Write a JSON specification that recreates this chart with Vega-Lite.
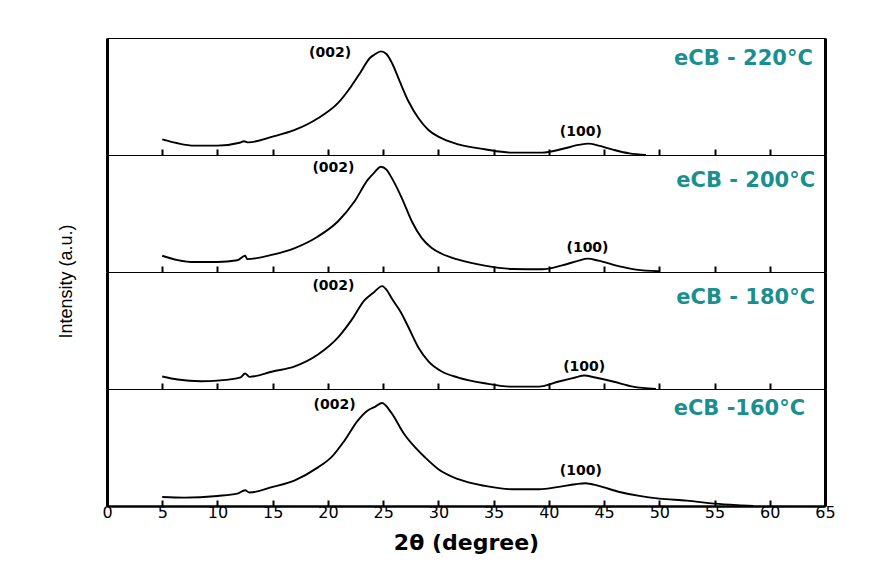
{
  "$schema": "https://vega.github.io/schema/vega-lite/v6.json",
  "background": "white",
  "padding": {"left": 56, "top": 37, "right": 5, "bottom": 5},
  "bounds": "flush",
  "spacing": 0,
  "datasets": {
    "s220": [
      {"t":5,"i":13.4},{"t":6.4,"i":10},{"t":7.9,"i":8},{"t":10,"i":8},{"t":12,"i":10.5},{"t":12.4,"i":11.8},{"t":12.8,"i":10.8},{"t":15,"i":15.7},{"t":17,"i":21.4},{"t":19.1,"i":31.4},{"t":20.9,"i":44.3},{"t":22.1,"i":58.6},{"t":23,"i":71.4},{"t":23.8,"i":82.9},{"t":24.2,"i":85.7},{"t":24.8,"i":88.6},{"t":25.3,"i":86.3},{"t":25.8,"i":78.6},{"t":26.5,"i":62.9},{"t":27.3,"i":45.7},{"t":28.2,"i":31.4},{"t":29.1,"i":21.4},{"t":30,"i":15.7},{"t":31.8,"i":9.1},{"t":34.2,"i":4.9},{"t":36.7,"i":2},{"t":39.4,"i":2},{"t":41.2,"i":5.1},{"t":42.7,"i":8.6},{"t":43.6,"i":9.7},{"t":44.5,"i":8},{"t":45.8,"i":4.6},{"t":47.3,"i":1.4},{"t":48.8,"i":0}
    ],
    "s200": [
      {"t":5,"i":13.9},{"t":6.4,"i":10.2},{"t":7.9,"i":8.5},{"t":10,"i":8.5},{"t":11.8,"i":10},{"t":12.5,"i":13.9},{"t":12.7,"i":11},{"t":15,"i":14.8},{"t":17,"i":20.5},{"t":19.1,"i":30.4},{"t":20.9,"i":43.2},{"t":22.4,"i":60.2},{"t":23.6,"i":78.7},{"t":24.2,"i":85},{"t":24.8,"i":90},{"t":25.3,"i":87.5},{"t":25.8,"i":80},{"t":26.7,"i":63},{"t":27.6,"i":43.2},{"t":28.5,"i":29},{"t":29.4,"i":20.5},{"t":30.3,"i":15.6},{"t":31.8,"i":10.5},{"t":34.2,"i":5.4},{"t":36.7,"i":2.6},{"t":39.4,"i":2.3},{"t":41.2,"i":5.7},{"t":42.7,"i":9.7},{"t":43.5,"i":11.4},{"t":44.5,"i":9.7},{"t":46.4,"i":4.8},{"t":47.9,"i":2},{"t":50,"i":0.6}
    ],
    "s180": [
      {"t":5,"i":10.7},{"t":6.4,"i":8.1},{"t":8.5,"i":6.6},{"t":10,"i":7.2},{"t":12.1,"i":10},{"t":12.5,"i":13.3},{"t":12.9,"i":10.4},{"t":15,"i":15},{"t":17,"i":19.4},{"t":19.1,"i":29.5},{"t":20.9,"i":43.9},{"t":22.1,"i":58.4},{"t":23.3,"i":75.7},{"t":24.2,"i":83},{"t":24.9,"i":87.9},{"t":25.4,"i":83.5},{"t":25.7,"i":78.6},{"t":26.6,"i":65.6},{"t":27.3,"i":52.6},{"t":28.2,"i":35.3},{"t":29.1,"i":23.7},{"t":30.3,"i":15},{"t":31.8,"i":9.8},{"t":34.2,"i":4.9},{"t":36.7,"i":2},{"t":39.1,"i":2},{"t":40.9,"i":6.4},{"t":42.4,"i":9.8},{"t":43.2,"i":11.6},{"t":44.2,"i":9.8},{"t":45.8,"i":6.4},{"t":47.6,"i":2},{"t":49.7,"i":0}
    ],
    "s160": [
      {"t":5,"i":7.7},{"t":7,"i":7.2},{"t":10,"i":8.6},{"t":11.8,"i":10.6},{"t":12.5,"i":13.5},{"t":12.9,"i":11.5},{"t":15,"i":16.3},{"t":17,"i":22},{"t":19.1,"i":33},{"t":20.3,"i":41.5},{"t":21.5,"i":55.9},{"t":22.7,"i":73},{"t":23.6,"i":81.7},{"t":24.3,"i":85},{"t":24.9,"i":88},{"t":25.7,"i":80.2},{"t":26.9,"i":61.6},{"t":27.9,"i":50.1},{"t":28.8,"i":41.5},{"t":30,"i":31.5},{"t":31.8,"i":22.9},{"t":34.2,"i":17.2},{"t":36.7,"i":14.3},{"t":39.1,"i":14.3},{"t":40.9,"i":16.3},{"t":42.4,"i":18.6},{"t":43.3,"i":19.5},{"t":44.5,"i":17.2},{"t":46.4,"i":12},{"t":48.2,"i":8.6},{"t":50,"i":6.3},{"t":52.5,"i":4.6},{"t":55,"i":2},{"t":57.5,"i":0.5},{"t":58.5,"i":0}
    ],
    "labels": [
      {"sample":"220","kind":"peak","t":20.2,"i":87,"text":"(002)"},
      {"sample":"220","kind":"peak","t":42.9,"i":20,"text":"(100)"},
      {"sample":"220","kind":"name","t":63.9,"i":82,"text":"eCB - 220°C"},
      {"sample":"200","kind":"peak","t":20.5,"i":88.6,"text":"(002)"},
      {"sample":"200","kind":"peak","t":43.5,"i":20.5,"text":"(100)"},
      {"sample":"200","kind":"name","t":64.1,"i":78,"text":"eCB - 200°C"},
      {"sample":"180","kind":"peak","t":20.5,"i":88,"text":"(002)"},
      {"sample":"180","kind":"peak","t":43.2,"i":18.8,"text":"(100)"},
      {"sample":"180","kind":"name","t":64.1,"i":78,"text":"eCB - 180°C"},
      {"sample":"160","kind":"peak","t":20.6,"i":86,"text":"(002)"},
      {"sample":"160","kind":"peak","t":42.9,"i":30,"text":"(100)"},
      {"sample":"160","kind":"name","t":63.2,"i":83,"text":"eCB -160°C"}
    ]
  },
  "vconcat": [
    {
      "width": 718, "height": 117,
      "layer": [
        {"data": {"name": "s220"}, "mark": {"type": "line", "color": "black", "strokeWidth": 1.9, "interpolate": "monotone"},
         "encoding": {
           "x": {"field": "t", "type": "quantitative", "scale": {"domain": [0, 65], "nice": false},
                 "axis": {"values": [0,2.5,5,7.5,10,12.5,15,17.5,20,22.5,25,27.5,30,32.5,35,37.5,40,42.5,45,47.5,50,52.5,55,57.5,60,62.5,65], "labels": false, "title": null, "grid": false, "domainColor": "black", "domainWidth": 1, "tickColor": "black", "tickWidth": 2, "tickSize": {"condition": {"test": "datum.value % 5 === 0", "value": -6}, "value": -2.5}}},
           "y": {"field": "i", "type": "quantitative", "scale": {"domain": [0, 100], "nice": false},
                 "axis": {"orient": "left", "labels": false, "ticks": false, "title": null, "grid": false, "domainColor": "black", "domainWidth": 3}}
         }},
        {"data": {"name": "labels"}, "transform": [{"filter": "datum.sample === '220' && datum.kind === 'peak'"}],
         "mark": {"type": "text", "font": "DejaVu Sans", "fontWeight": "bold", "fontSize": 14, "color": "black", "align": "center", "baseline": "middle"},
         "encoding": {"x": {"field": "t", "type": "quantitative"}, "y": {"field": "i", "type": "quantitative", "axis": null}, "text": {"field": "text"}}},
        {"data": {"name": "labels"}, "transform": [{"filter": "datum.sample === '220' && datum.kind === 'name'"}],
         "mark": {"type": "text", "font": "DejaVu Sans", "fontWeight": "bold", "fontSize": 21, "color": "#1a8f8f", "align": "right", "baseline": "middle"},
         "encoding": {"x": {"field": "t", "type": "quantitative"}, "y": {"field": "i", "type": "quantitative", "axis": {"orient": "right", "labels": false, "ticks": false, "title": null, "grid": false, "domainColor": "black", "domainWidth": 3}}, "text": {"field": "text"}}}
      ],
      "resolve": {"axis": {"y": "independent"}}
    },
    {
      "width": 718, "height": 117,
      "layer": [
        {"data": {"name": "s200"}, "mark": {"type": "line", "color": "black", "strokeWidth": 1.9, "interpolate": "monotone"},
         "encoding": {
           "x": {"field": "t", "type": "quantitative", "scale": {"domain": [0, 65], "nice": false},
                 "axis": {"values": [0,2.5,5,7.5,10,12.5,15,17.5,20,22.5,25,27.5,30,32.5,35,37.5,40,42.5,45,47.5,50,52.5,55,57.5,60,62.5,65], "labels": false, "title": null, "grid": false, "domainColor": "black", "domainWidth": 1, "tickColor": "black", "tickWidth": 2, "tickSize": {"condition": {"test": "datum.value % 5 === 0", "value": -6}, "value": -2.5}}},
           "y": {"field": "i", "type": "quantitative", "scale": {"domain": [0, 100], "nice": false},
                 "axis": {"orient": "left", "labels": false, "ticks": false, "title": null, "grid": false, "domainColor": "black", "domainWidth": 3}}
         }},
        {"data": {"name": "labels"}, "transform": [{"filter": "datum.sample === '200' && datum.kind === 'peak'"}],
         "mark": {"type": "text", "font": "DejaVu Sans", "fontWeight": "bold", "fontSize": 14, "color": "black", "align": "center", "baseline": "middle"},
         "encoding": {"x": {"field": "t", "type": "quantitative"}, "y": {"field": "i", "type": "quantitative", "axis": null}, "text": {"field": "text"}}},
        {"data": {"name": "labels"}, "transform": [{"filter": "datum.sample === '200' && datum.kind === 'name'"}],
         "mark": {"type": "text", "font": "DejaVu Sans", "fontWeight": "bold", "fontSize": 21, "color": "#1a8f8f", "align": "right", "baseline": "middle"},
         "encoding": {"x": {"field": "t", "type": "quantitative"}, "y": {"field": "i", "type": "quantitative", "axis": {"orient": "right", "labels": false, "ticks": false, "title": null, "grid": false, "domainColor": "black", "domainWidth": 3}}, "text": {"field": "text"}}}
      ],
      "resolve": {"axis": {"y": "independent"}}
    },
    {
      "width": 718, "height": 117,
      "layer": [
        {"data": {"name": "s180"}, "mark": {"type": "line", "color": "black", "strokeWidth": 1.9, "interpolate": "monotone"},
         "encoding": {
           "x": {"field": "t", "type": "quantitative", "scale": {"domain": [0, 65], "nice": false},
                 "axis": {"values": [0,2.5,5,7.5,10,12.5,15,17.5,20,22.5,25,27.5,30,32.5,35,37.5,40,42.5,45,47.5,50,52.5,55,57.5,60,62.5,65], "labels": false, "title": null, "grid": false, "domainColor": "black", "domainWidth": 1, "tickColor": "black", "tickWidth": 2, "tickSize": {"condition": {"test": "datum.value % 5 === 0", "value": -6}, "value": -2.5}}},
           "y": {"field": "i", "type": "quantitative", "scale": {"domain": [0, 100], "nice": false},
                 "axis": {"orient": "left", "labels": false, "ticks": false, "title": "Intensity (a.u.)", "titleFont": "Liberation Sans", "titleFontSize": 18, "titleFontWeight": "normal", "titleColor": "black", "titlePadding": 32, "titleY": 9, "grid": false, "domainColor": "black", "domainWidth": 3}}
         }},
        {"data": {"name": "labels"}, "transform": [{"filter": "datum.sample === '180' && datum.kind === 'peak'"}],
         "mark": {"type": "text", "font": "DejaVu Sans", "fontWeight": "bold", "fontSize": 14, "color": "black", "align": "center", "baseline": "middle"},
         "encoding": {"x": {"field": "t", "type": "quantitative"}, "y": {"field": "i", "type": "quantitative", "axis": null}, "text": {"field": "text"}}},
        {"data": {"name": "labels"}, "transform": [{"filter": "datum.sample === '180' && datum.kind === 'name'"}],
         "mark": {"type": "text", "font": "DejaVu Sans", "fontWeight": "bold", "fontSize": 21, "color": "#1a8f8f", "align": "right", "baseline": "middle"},
         "encoding": {"x": {"field": "t", "type": "quantitative"}, "y": {"field": "i", "type": "quantitative", "axis": {"orient": "right", "labels": false, "ticks": false, "title": null, "grid": false, "domainColor": "black", "domainWidth": 3}}, "text": {"field": "text"}}}
      ],
      "resolve": {"axis": {"y": "independent"}}
    },
    {
      "width": 718, "height": 117,
      "layer": [
        {"data": {"name": "s160"}, "mark": {"type": "line", "color": "black", "strokeWidth": 1.9, "interpolate": "monotone"},
         "encoding": {
           "x": {"field": "t", "type": "quantitative", "scale": {"domain": [0, 65], "nice": false},
                 "axis": {"values": [0,2.5,5,7.5,10,12.5,15,17.5,20,22.5,25,27.5,30,32.5,35,37.5,40,42.5,45,47.5,50,52.5,55,57.5,60,62.5,65], "labelExpr": "datum.value % 5 === 0 ? datum.label : ''", "labelFont": "DejaVu Sans", "labelFontSize": 16, "labelColor": "black", "labelFlush": false, "labelOverlap": false, "labelPadding": 4, "title": "2θ (degree)", "titleFont": "DejaVu Sans", "titleFontSize": 22, "titleFontWeight": "bold", "titleColor": "black", "titlePadding": 12, "grid": false, "domainColor": "black", "domainWidth": 2.5, "tickColor": "black", "tickWidth": 2, "tickSize": {"condition": {"test": "datum.value % 5 === 0", "value": -6}, "value": -2.5}}},
           "y": {"field": "i", "type": "quantitative", "scale": {"domain": [0, 100], "nice": false},
                 "axis": {"orient": "left", "labels": false, "ticks": false, "title": null, "grid": false, "domainColor": "black", "domainWidth": 3}}
         }},
        {"data": {"name": "labels"}, "transform": [{"filter": "datum.sample === '160' && datum.kind === 'peak'"}],
         "mark": {"type": "text", "font": "DejaVu Sans", "fontWeight": "bold", "fontSize": 14, "color": "black", "align": "center", "baseline": "middle"},
         "encoding": {"x": {"field": "t", "type": "quantitative"}, "y": {"field": "i", "type": "quantitative", "axis": null}, "text": {"field": "text"}}},
        {"data": {"name": "labels"}, "transform": [{"filter": "datum.sample === '160' && datum.kind === 'name'"}],
         "mark": {"type": "text", "font": "DejaVu Sans", "fontWeight": "bold", "fontSize": 21, "color": "#1a8f8f", "align": "right", "baseline": "middle"},
         "encoding": {"x": {"field": "t", "type": "quantitative"}, "y": {"field": "i", "type": "quantitative", "axis": {"orient": "right", "labels": false, "ticks": false, "title": null, "grid": false, "domainColor": "black", "domainWidth": 3}}, "text": {"field": "text"}}}
      ],
      "resolve": {"axis": {"y": "independent"}}
    }
  ],
  "config": {
    "view": {"stroke": "black", "strokeWidth": 1},
    "concat": {"spacing": 0}
  }
}
